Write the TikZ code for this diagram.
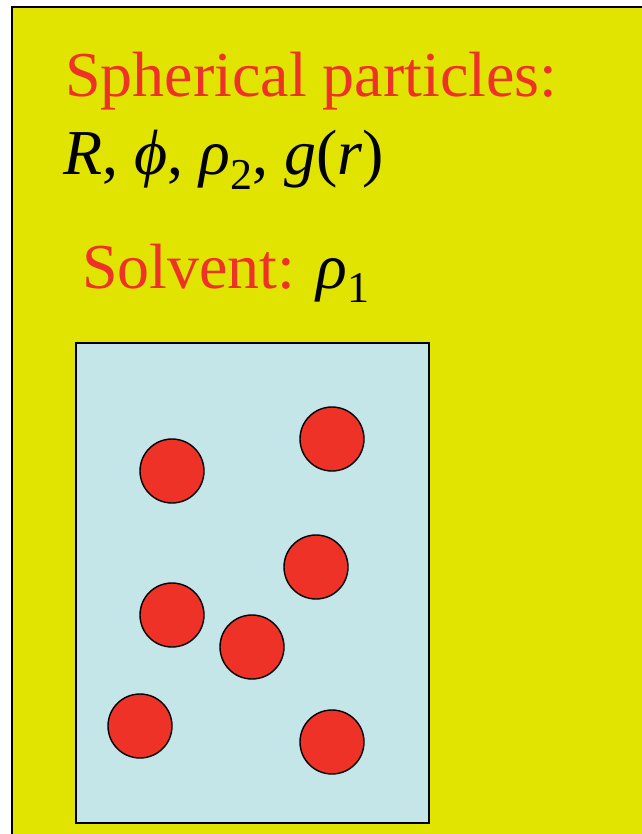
\documentclass[tikz,border=0pt]{standalone}
\usepackage{fontspec}
\setmainfont{Liberation Serif}
\definecolor{bgyellow}{RGB}{224,228,0}
\definecolor{solvblue}{RGB}{196,230,232}
\definecolor{partred}{RGB}{238,50,40}
\tikzset{
  particle/.style={circle,draw=black,line width=1.4pt,fill=partred,minimum size=64pt,inner sep=0pt},
  bigtext/.style={anchor=base west,inner sep=0pt,font=\fontsize{64}{76}\selectfont},
}
\newcommand{\subtwo}[1]{\raisebox{-0.22em}{\fontsize{44}{50}\selectfont #1}}
\begin{document}
\begin{tikzpicture}[x=1pt,y=-1pt]
\useasboundingbox (0,0) rectangle (641,834);
\fill[white] (0,0) rectangle (641,834);
\fill[bgyellow] (12,7) rectangle (645,840);
\draw[line width=2pt,black] (12,840) -- (12,7) -- (645,7);
\node[bigtext,text=partred] (title) at (65,97) {Spherical particles:};
\node[bigtext] (params) at (63,175) {\itshape R\upshape, \itshape ϕ\upshape, \itshape ρ\upshape\subtwo{2}, \itshape g\upshape(\itshape r\upshape)};
\node[bigtext,text=partred] (solv) at (82,288) {Solvent: {\color{black}\itshape ρ\upshape\subtwo{1}}};
\draw[fill=solvblue,line width=1.6pt] (76,343) rectangle (429,823);
\node[particle] (p1) at (172,471) {};
\node[particle] (p2) at (332,439) {};
\node[particle] (p3) at (316,567) {};
\node[particle] (p4) at (172,615) {};
\node[particle] (p5) at (252,647) {};
\node[particle] (p6) at (140,726) {};
\node[particle] (p7) at (332,742) {};
\end{tikzpicture}
\end{document}
